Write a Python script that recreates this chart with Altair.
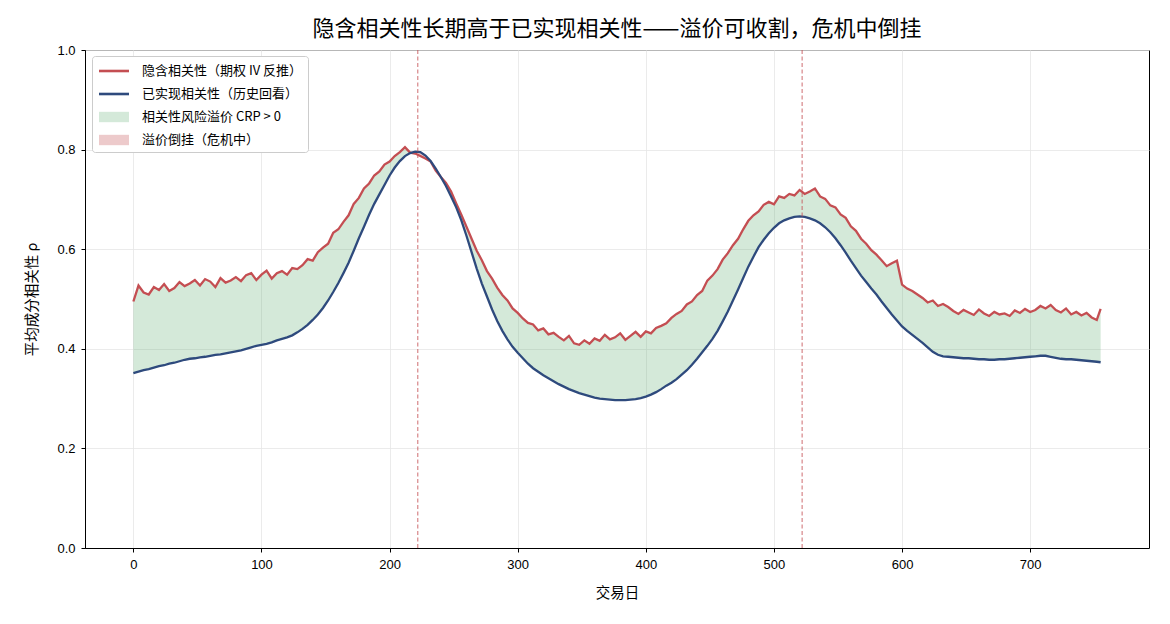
import altair as alt
import pandas as pd

# ---- data -----------------------------------------------------------------
days = list(range(0, 753, 4)) + [755]

implied = [
    .495, .527, .513, .509, .524, .518, .530, .516, .522, .534,
    .526, .531, .538, .527, .540, .535, .524, .542, .533, .537,
    .544, .536, .548, .552, .538, .549, .557, .541, .552, .556,
    .549, .562, .560, .568, .580, .577, .594, .603, .611, .633,
    .640, .655, .668, .691, .703, .722, .732, .748, .756, .770,
    .776, .787, .795, .805, .794, .792, .787, .782, .776, .758,
    .745, .733, .716, .692, .669, .645, .621, .597, .578, .556,
    .541, .523, .508, .497, .481, .472, .461, .452, .449, .437,
    .441, .429, .432, .424, .417, .426, .411, .408, .417, .410,
    .421, .416, .428, .419, .423, .431, .418, .426, .434, .424,
    .435, .431, .442, .446, .451, .462, .470, .476, .489, .495,
    .508, .516, .537, .547, .560, .579, .592, .608, .621, .640,
    .657, .668, .676, .689, .695, .690, .706, .703, .711, .708,
    .719, .711, .716, .722, .706, .701, .688, .684, .670, .663,
    .646, .637, .621, .611, .598, .589, .578, .566, .572, .577,
    .529, .521, .516, .509, .502, .493, .497, .486, .490, .484,
    .476, .470, .478, .473, .468, .479, .471, .466, .474, .469,
    .471, .466, .477, .472, .480, .474, .478, .486, .481, .488,
    .478, .473, .481, .469, .474, .467, .472, .463, .458, .480,
]

realized = [
    .351, .354, .357, .359, .362, .365, .367, .370, .372, .375,
    .378, .380, .381, .383, .384, .386, .388, .389, .391, .393,
    .395, .397, .400, .403, .406, .408, .410, .413, .417, .420,
    .423, .427, .433, .440, .448, .458, .469, .482, .497, .514,
    .532, .552, .573, .597, .622, .645, .669, .691, .710, .729,
    .748, .764, .777, .787, .793, .796, .795, .788, .777, .762,
    .745, .727, .706, .684, .658, .627, .594, .561, .531, .505,
    .479, .456, .436, .419, .404, .392, .381, .370, .361, .354,
    .347, .341, .335, .329, .324, .319, .315, .311, .308, .305,
    .302, .300, .299, .298, .297, .297, .297, .298, .299, .301,
    .304, .308, .313, .319, .326, .332, .339, .348, .357, .368,
    .380, .393, .406, .420, .436, .455, .475, .497, .519, .542,
    .565, .585, .604, .619, .632, .643, .652, .658, .662, .665,
    .666, .665, .662, .658, .652, .644, .634, .622, .608, .593,
    .577, .562, .547, .534, .521, .509, .495, .482, .469, .457,
    .445, .436, .428, .420, .412, .403, .394, .388, .385, .384,
    .383, .382, .381, .381, .380, .379, .379, .378, .378, .379,
    .379, .380, .381, .382, .383, .384, .385, .386, .386, .384,
    .382, .380, .379, .379, .378, .377, .376, .375, .374, .373,
]

crisis_days = [222, 522]

x_ticks = [0, 100, 200, 300, 400, 500, 600, 700]
y_ticks = [0.0, 0.2, 0.4, 0.6, 0.8, 1.0]

RED = "#C44E52"
BLUE = "#2E4A7D"
GREEN = "#55A868"

legend_labels = [
    "隐含相关性（期权 IV 反推）",
    "已实现相关性（历史回看）",
    "相关性风险溢价 CRP > 0",
    "溢价倒挂（危机中）",
]
legend_colors = [RED, BLUE, "#D4E9D9", "#EDCACB"]
LINE_SYM = "M-1.5,-0.13H1.5V0.13H-1.5Z"
PATCH_SYM = "M-1.5,-0.52H1.5V0.52H-1.5Z"
legend_shapes = [LINE_SYM, LINE_SYM, PATCH_SYM, PATCH_SYM]

FONT = "'Liberation Sans', Arial, 'Noto Sans CJK SC', sans-serif"
CJK = "'Noto Sans CJK SC', 'Liberation Sans', sans-serif"

df = pd.DataFrame({"day": days, "implied": implied, "realized": realized})

x_enc = alt.X(
    "day:Q",
    scale=alt.Scale(domain=[-37.75, 792.75], nice=False, zero=False),
    axis=alt.Axis(values=x_ticks, format="d", title="交易日"),
)
y_scale = alt.Scale(domain=[0, 1], nice=False, zero=False)
y_axis = alt.Axis(values=y_ticks, format=".1f", title="平均成分相关性 ρ")

base = alt.Chart(df).transform_calculate(
    hi="max(datum.implied, datum.realized)",
    lo="min(datum.implied, datum.realized)",
)

# premium band: implied above realized
premium = base.mark_area(color=GREEN, opacity=0.25).encode(
    x=x_enc,
    y=alt.Y("realized:Q", scale=y_scale, axis=y_axis),
    y2="hi:Q",
)

# inverted band: implied below realized
inverted = base.mark_area(color=RED, opacity=0.3).encode(
    x=x_enc,
    y=alt.Y("lo:Q", scale=y_scale, axis=y_axis),
    y2="realized:Q",
)

implied_line = base.mark_line(color=RED, strokeWidth=2.3).encode(
    x=x_enc, y=alt.Y("implied:Q", scale=y_scale, axis=y_axis)
)
realized_line = base.mark_line(color=BLUE, strokeWidth=2.3).encode(
    x=x_enc, y=alt.Y("realized:Q", scale=y_scale, axis=y_axis)
)

crisis = alt.Chart(pd.DataFrame({"day": crisis_days})).mark_rule(
    color=RED, opacity=0.75, strokeWidth=1.1, strokeDash=[4, 2.5]
).encode(x=x_enc)

leg = alt.Legend(
    title=None,
    orient="none",
    legendX=7,
    legendY=6,
    direction="vertical",
    labelFont=CJK,
    labelFontSize=13,
    labelColor="black",
    labelLimit=400,
    labelOffset=18,
    symbolOffset=7,
    symbolSize=400,
    symbolStrokeWidth=0,
    symbolOpacity=1,
    padding=5,
    rowPadding=6,
    strokeColor="#cccccc",
    fillColor="white",
    cornerRadius=3,
)

legend_layer = (
    alt.Chart(pd.DataFrame({"entry": legend_labels}))
    .mark_point(filled=True, opacity=1)
    .encode(
        color=alt.Color(
            "entry:N",
            scale=alt.Scale(domain=legend_labels, range=legend_colors),
            sort=legend_labels,
            legend=leg,
        ),
        shape=alt.Shape(
            "entry:N",
            scale=alt.Scale(domain=legend_labels, range=legend_shapes),
            sort=legend_labels,
            legend=leg,
        ),
    )
    .transform_filter("false")
)

chart = (
    alt.layer(premium, inverted, implied_line, realized_line, crisis, legend_layer)
    .properties(
        width=1064,
        height=498,
        autosize=alt.AutoSizeParams(type="none"),
        padding={"left": 85, "top": 50, "right": 21, "bottom": 76},
        title=alt.TitleParams(
            "隐含相关性长期高于已实现相关性——溢价可收割，危机中倒挂",
            font=CJK,
            fontSize=22,
            fontWeight="normal",
            color="black",
            anchor="middle",
            offset=3,
        ),
        background="white",
    )
    .configure_view(stroke="black", strokeWidth=1)
    .configure_axis(
        labelFont=FONT,
        labelFontSize=13,
        labelColor="black",
        titleFont=CJK,
        titleFontSize=14.5,
        titleFontWeight="normal",
        titleColor="black",
        tickColor="black",
        tickSize=4,
        tickWidth=1,
        domainColor="black",
        domainWidth=1,
        gridColor="#e6e6e6",
        gridWidth=0.8,
        labelPadding=6,
    )
    .configure_axisX(titlePadding=15)
    .configure_axisY(titlePadding=17)
)

chart.save("out.html", embed_options={"renderer": "svg", "actions": False})
